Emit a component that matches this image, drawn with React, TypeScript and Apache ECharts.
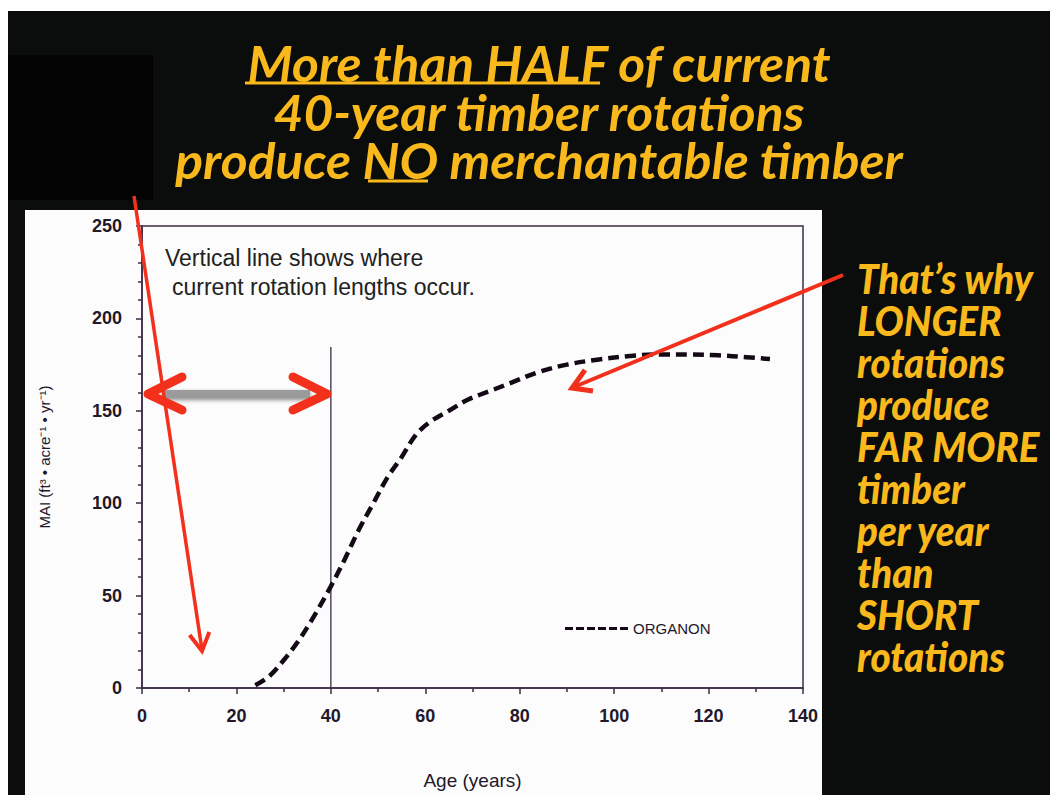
import React, { useEffect, useRef } from "react";
import * as echarts from "echarts";

// ORGANON MAI curve
const ages = [24, 27, 30, 33, 36, 40, 43, 46, 49, 52, 55, 58, 61, 65, 69, 74, 78, 84, 90, 96, 104, 110, 116, 122, 128, 133];
const mai = [1.5, 6.5, 15, 25, 37, 55, 70, 86, 100, 114, 125, 137, 144, 150, 156, 161, 165, 171, 175, 177.5, 179.8, 180.5, 180.5, 180, 179, 178];
// Vertical line marking current rotation length
const rotationAge = [40, 40];
const rotationMai = [0, 184.5];

const titleLines = ["More than HALF of current", "40-year timber rotations", "produce NO merchantable timber"];
const sideLines = ["That\u2019s why", "LONGER", "rotations", "produce", "FAR MORE", "timber", "per year", "than", "SHORT", "rotations"];
const noteLines = ["Vertical line shows where", "current rotation lengths occur."];

const YELLOW = "#f9b91c";
const RED = "#f2301c";
const INK = "#22182a";

export default function App() {
  const ref = useRef<HTMLDivElement>(null);
  useEffect(() => {
    const chart = echarts.init(ref.current!, null, { renderer: "svg" });
    const curve = ages.map((a, i) => [a, mai[i]]);
    const vline = rotationAge.map((a, i) => [a, rotationMai[i]]);

    const graphics: any[] = [
      { type: "rect", z: -100, silent: true, shape: { x: 8, y: 11, width: 1042, height: 784 }, style: { fill: "#0b0d0d" } },
      { type: "rect", z: -99, silent: true, shape: { x: 8, y: 55, width: 145, height: 145 }, style: { fill: "#030303" } },
      { type: "rect", z: -98, silent: true, shape: { x: 25, y: 210, width: 797, height: 585 }, style: { fill: "#fcfcfc" } },
    ];
    const titleY = [63, 112, 160];
    titleLines.forEach((t, i) => {
      graphics.push({
        type: "text", z: 50, x: 539, y: titleY[i], scaleX: 1.03,
        style: { text: t, x: 0, y: 0, textAlign: "center", textVerticalAlign: "middle", fill: YELLOW, font: "italic bold 50px Lato" },
      });
    });
    graphics.push({ type: "line", z: 50, shape: { x1: 245, y1: 83, x2: 600, y2: 83 }, style: { stroke: YELLOW, lineWidth: 3 } });
    graphics.push({ type: "line", z: 50, shape: { x1: 368, y1: 181, x2: 428, y2: 181 }, style: { stroke: YELLOW, lineWidth: 3 } });
    sideLines.forEach((t, i) => {
      graphics.push({
        type: "text", z: 50, x: 857, y: 278 + i * 42, scaleX: 0.94,
        style: { text: t, x: 0, y: 0, textAlign: "left", textVerticalAlign: "middle", fill: YELLOW, font: "italic 900 41px Lato" },
      });
    });
    const noteX = [165, 172];
    const noteY = [258, 287];
    noteLines.forEach((t, i) => {
      graphics.push({
        type: "text", z: 50,
        style: { text: t, x: noteX[i], y: noteY[i], textAlign: "left", textVerticalAlign: "middle", fill: "#222", font: '23px "Liberation Sans"' },
      });
    });
    // double arrow
    graphics.push({
      type: "rect", z: 60, shape: { x: 162, y: 390, width: 148, height: 8 },
      style: { fill: "#9a9a9a", shadowBlur: 4, shadowColor: "rgba(0,0,0,0.45)", shadowOffsetY: 2 },
    });
    graphics.push({
      type: "polyline", z: 61, shape: { points: [[182, 377], [148, 394], [182, 410]] },
      style: { stroke: RED, lineWidth: 9, lineCap: "round", lineJoin: "round", fill: null },
    });
    graphics.push({
      type: "polyline", z: 61, shape: { points: [[293, 377], [327, 394], [293, 410]] },
      style: { stroke: RED, lineWidth: 9, lineCap: "round", lineJoin: "round", fill: null },
    });
    // red arrow 1
    graphics.push({ type: "line", z: 62, shape: { x1: 134, y1: 196, x2: 202, y2: 650 }, style: { stroke: RED, lineWidth: 3.5 } });
    graphics.push({
      type: "polyline", z: 62, shape: { points: [[189.6, 635], [202, 651], [209.3, 632]] },
      style: { stroke: RED, lineWidth: 4, lineJoin: "miter", fill: null },
    });
    // red arrow 2
    graphics.push({ type: "line", z: 62, shape: { x1: 843, y1: 275, x2: 574, y2: 387 }, style: { stroke: RED, lineWidth: 4 } });
    graphics.push({
      type: "polyline", z: 62, shape: { points: [[585, 370], [572, 388], [593, 391]] },
      style: { stroke: RED, lineWidth: 5, lineJoin: "miter", fill: null },
    });

    const dashIcon = "path://M0 0h8v3h-8z M11 0h8v3h-8z M22 0h8v3h-8z M33 0h8v3h-8z M44 0h8v3h-8z M55 0h8v3h-8z";

    chart.setOption({
      animation: false,
      backgroundColor: "#ffffff",
      grid: { left: 142, right: 247, top: 226, bottom: 106, show: true, borderColor: "#3b2b45", borderWidth: 1.5, backgroundColor: "transparent" },
      legend: {
        data: [{ name: "ORGANON", icon: dashIcon }],
        left: 565, top: 621, padding: 0, itemWidth: 63, itemHeight: 3, itemGap: 4,
        itemStyle: { color: "#140a16" },
        textStyle: { color: INK, fontSize: 15, fontFamily: "Liberation Sans", padding: [0, 0, 0, 0] },
      },
      xAxis: {
        type: "value", min: 0, max: 140, interval: 20,
        name: "Age (years)", nameLocation: "middle", nameGap: 83,
        nameTextStyle: { color: INK, fontSize: 19, fontFamily: "Liberation Sans" },
        axisLine: { lineStyle: { color: "#3b2b45", width: 1.5 } },
        axisTick: { length: 6, lineStyle: { color: "#3b2b45", width: 1.5 } },
        minorTick: { show: true, splitNumber: 2, length: 4, lineStyle: { color: "#3b2b45", width: 1.5 } },
        splitLine: { show: false },
        axisLabel: { color: INK, fontSize: 18, fontWeight: "bold", margin: 19, fontFamily: "Liberation Sans" },
      },
      yAxis: {
        type: "value", min: 0, max: 250, interval: 50,
        name: "MAI (ft\u00b3 \u2022 acre\u207b\u00b9 \u2022 yr\u207b\u00b9)", nameLocation: "middle", nameGap: 90,
        nameTextStyle: { color: INK, fontSize: 15, fontFamily: "Liberation Sans" },
        axisLine: { show: true, lineStyle: { color: "#3b2b45", width: 1.5 } },
        axisTick: { show: true, length: 6, lineStyle: { color: "#3b2b45", width: 1.5 } },
        minorTick: { show: true, splitNumber: 5, length: 4, lineStyle: { color: "#3b2b45", width: 1.5 } },
        splitLine: { show: false },
        axisLabel: { color: INK, fontSize: 18, fontWeight: "bold", margin: 20, fontFamily: "Liberation Sans" },
      },
      series: [
        {
          name: "ORGANON", type: "line", data: curve, symbol: "none", smooth: 0.35, z: 5,
          lineStyle: { color: "#140a16", width: 4.5, type: [11, 6] },
          itemStyle: { color: "#140a16" },
        },
        {
          name: "rotation", type: "line", data: vline, symbol: "none", z: 4,
          lineStyle: { color: "#3b2b45", width: 1.3, type: "solid" },
        },
      ],
      graphic: graphics,
    });
    return () => chart.dispose();
  }, []);
  return <div ref={ref} style={{ position: "absolute", left: 0, top: 0, width: 1050, height: 795 }} />;
}
